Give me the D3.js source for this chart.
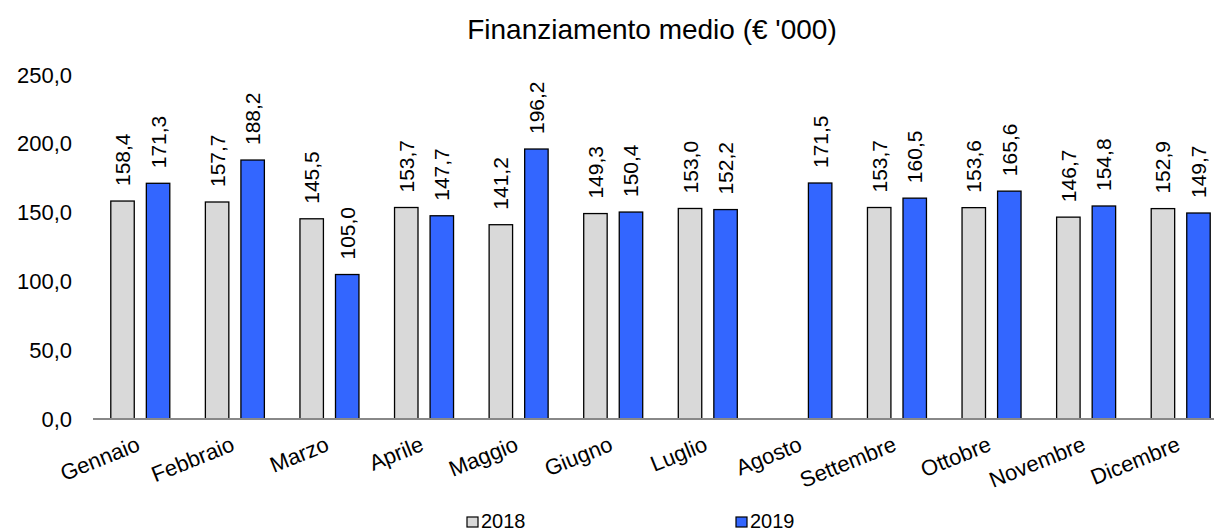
<!DOCTYPE html>
<html>
<head>
<meta charset="utf-8">
<script src="https://cdn.jsdelivr.net/npm/d3@7"></script>
<style>
  body { margin: 0; background: #fff; }
  svg { display: block; font-family: Arial, "Liberation Sans", sans-serif; }
</style>
</head>
<body>
<div id="chart"></div>
<script>
// chart data
var months = ["Gennaio", "Febbraio", "Marzo", "Aprile", "Maggio", "Giugno", "Luglio", "Agosto", "Settembre", "Ottobre", "Novembre", "Dicembre"]
var values2018 = [158.4, 157.7, 145.5, 153.7, 141.2, 149.3, 153.0, null, 153.7, 153.6, 146.7, 152.9]
var values2019 = [171.3, 188.2, 105.0, 147.7, 196.2, 150.4, 152.2, 171.5, 160.5, 165.6, 154.8, 149.7]
var seriesNames = ["2018", "2019"]
var seriesColors = ["#d9d9d9", "#3366ff"]
var yTicks = [0, 50, 100, 150, 200, 250]
var title = "Finanziamento medio (€ '000)"

var width = 1214
var height = 531
var plotLeft = 93, plotRight = 1228, plotTop = 75, plotBottom = 419

var fmt = function(v) { return v.toFixed(1).replace(".", ",") }

var svg = d3.select("#chart")
  .append("svg")
  .attr("width", width)
  .attr("height", height)

var x = d3.scaleBand()
  .domain(months)
  .range([plotLeft, plotRight])

var x1 = d3.scaleBand()
  .domain(seriesNames)
  .range([x.bandwidth() / 2 - 29.5, x.bandwidth() / 2 + 29.5])
  .paddingInner(0.34)

var y = d3.scaleLinear()
  .domain([0, 250])
  .range([plotBottom, plotTop])

// title
svg.append("text")
  .attr("x", 652)
  .attr("y", 39)
  .attr("text-anchor", "middle")
  .style("font-size", "28px")
  .attr("fill", "#000")
  .text(title)

// y axis labels
var yAxis = svg.append("g")
  .attr("transform", "translate(" + plotLeft + ",0)")
  .call(d3.axisLeft(y).tickValues(yTicks).tickFormat(fmt).tickSize(0).tickPadding(21))
yAxis.select(".domain").remove()
yAxis.selectAll("text")
  .style("font-size", "22px")
  .style("font-family", "Arial, 'Liberation Sans', sans-serif")
  .attr("fill", "#000")

// bars
var rows = months.map(function(m, i) {
  return { month: m, vals: [values2018[i], values2019[i]] }
})

var groups = svg.selectAll(".grp")
  .data(rows)
  .enter()
  .append("g")
  .attr("transform", function(d) { return "translate(" + x(d.month) + ",0)" })

groups.each(function(d) {
  var g = d3.select(this)
  d.vals.forEach(function(v, k) {
    if (v == null) return
    var bx = x1(seriesNames[k])
    g.append("rect")
      .attr("x", bx)
      .attr("y", y(v))
      .attr("width", x1.bandwidth())
      .attr("height", y(0) - y(v))
      .attr("fill", seriesColors[k])
      .attr("stroke", "#000")
      .attr("stroke-width", 1.3)
    var cx = bx + x1.bandwidth() / 2
    g.append("text")
      .attr("transform", "translate(" + (cx + 7.5) + "," + (y(v) - 15) + ") rotate(-90)")
      .attr("text-anchor", "start")
      .style("font-size", "21px")
      .attr("fill", "#000")
      .text(fmt(v))
  })
})

// x axis line
svg.append("line")
  .attr("x1", plotLeft)
  .attr("x2", width)
  .attr("y1", y(0))
  .attr("y2", y(0))
  .attr("stroke", "#888")
  .attr("stroke-width", 2)

// category labels
svg.selectAll(".cat")
  .data(months)
  .enter()
  .append("text")
  .attr("transform", function(d) { return "translate(" + (x(d) + x.bandwidth() / 2 + 1) + ",450) rotate(-22)" })
  .attr("text-anchor", "end")
  .style("font-size", "22px")
  .attr("fill", "#000")
  .text(function(d) { return d })

// legend
var legendX = [467, 736]
var legend = svg.selectAll(".leg")
  .data(seriesNames)
  .enter()
  .append("g")
  .attr("transform", function(d, i) { return "translate(" + legendX[i] + ",517)" })
legend.append("rect")
  .attr("width", 11)
  .attr("height", 10)
  .attr("fill", function(d, i) { return seriesColors[i] })
  .attr("stroke", "#000")
  .attr("stroke-width", 1.2)
legend.append("text")
  .attr("x", 14)
  .attr("y", 11)
  .style("font-size", "20px")
  .attr("fill", "#000")
  .text(function(d) { return d })
</script>
</body>
</html>
